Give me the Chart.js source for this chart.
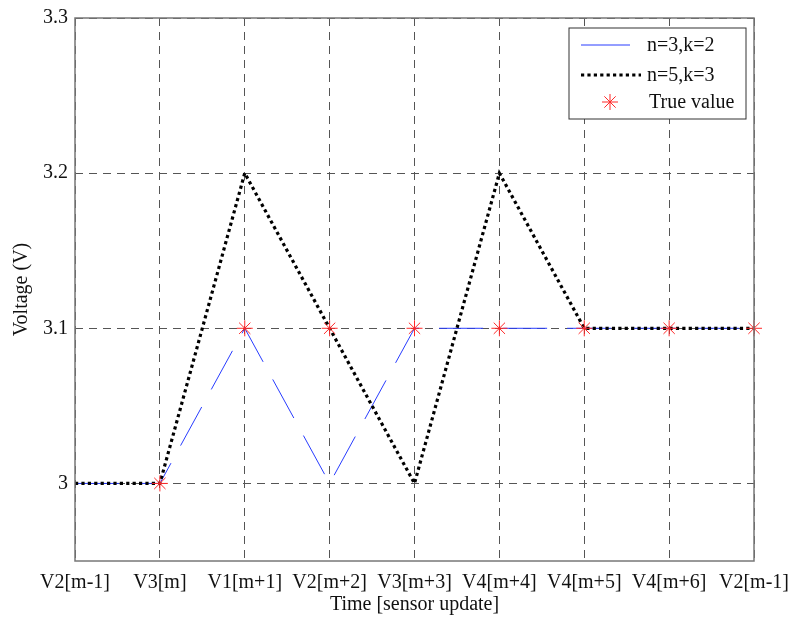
<!DOCTYPE html>
<html>
<head>
<meta charset="utf-8">
<script src="https://cdn.jsdelivr.net/npm/chart.js@4/dist/chart.umd.min.js"></script>
<style>
  html, body { margin: 0; padding: 0; background: #fff; }
  #wrap { width: 792px; height: 617px; }
</style>
</head>
<body>
<div id="wrap"><canvas id="voltChart" width="792" height="617"></canvas></div>
<script>
// 資料
const timeLabels = ['V2[m-1]', 'V3[m]', 'V1[m+1]', 'V2[m+2]', 'V3[m+3]', 'V4[m+4]', 'V4[m+5]', 'V4[m+6]', 'V2[m-1]'];
const seriesN3K2 = [3.0, 3.0, 3.1, 3.0, 3.1, 3.1, 3.1, 3.1, 3.1];
const seriesN5K3 = [3.0, 3.0, 3.2, 3.1, 3.0, 3.2, 3.1, 3.1, 3.1];
const trueValue = [null, 3.0, 3.1, 3.1, 3.1, 3.1, 3.1, 3.1, 3.1];
const yTicks = [3, 3.1, 3.2, 3.3];

const serif = "'Liberation Serif', 'Times New Roman', serif";
Chart.defaults.font.family = serif;
Chart.defaults.color = '#111';

// 外框 + 圖例 (畫在圖內右上角)
const boxAndLegend = {
  id: 'boxAndLegend',
  afterDatasetsDraw(chart) {
    const { ctx, chartArea: a } = chart;
    ctx.save();
    ctx.strokeStyle = '#777';
    ctx.lineWidth = 1.5;
    ctx.setLineDash([]);
    ctx.strokeRect(a.left, a.top, a.right - a.left, a.bottom - a.top);

    const w = 177, h = 91;
    const x = a.right - 8 - w, y = a.top + 10;
    ctx.fillStyle = '#fff';
    ctx.fillRect(x, y, w, h);
    ctx.strokeStyle = '#333';
    ctx.lineWidth = 1;
    ctx.strokeRect(x, y, w, h);

    ctx.font = '20px ' + serif;
    ctx.fillStyle = '#111';
    ctx.textBaseline = 'middle';
    const rows = [y + 17, y + 47, y + 74];
    chart.data.datasets.forEach((ds, i) => {
      const ry = rows[i];
      if (ds.showLine === false) {
        ctx.strokeStyle = ds.borderColor;
        ctx.lineWidth = 1;
        Chart.helpers.drawPoint(ctx, { pointStyle: 'star', radius: 8, borderWidth: 1 }, x + 41, ry);
      } else {
        ctx.strokeStyle = ds.borderColor;
        ctx.lineWidth = ds.borderWidth;
        ctx.setLineDash(i === 0 ? [] : ds.borderDash);
        ctx.beginPath();
        ctx.moveTo(x + 12, ry);
        ctx.lineTo(x + (i === 0 ? 61 : 72), ry);
        ctx.stroke();
        ctx.setLineDash([]);
      }
      ctx.fillText(ds.label, x + (ds.showLine === false ? 80 : 78), ry + 1);
    });
    ctx.restore();
  }
};

const ctx = document.getElementById('voltChart').getContext('2d');
new Chart(ctx, {
  type: 'line',
  data: {
    labels: timeLabels,
    datasets: [
      {
        label: 'n=3,k=2',
        data: seriesN3K2,
        borderColor: 'rgb(40,60,255)',
        borderWidth: 1,
        borderDash: [44, 20],
        pointRadius: 0,
        tension: 0,
        order: 3
      },
      {
        label: 'n=5,k=3',
        data: seriesN5K3,
        borderColor: '#000',
        borderWidth: 3.2,
        borderDash: [3.2, 3.2],
        pointRadius: 0,
        tension: 0,
        order: 2
      },
      {
        label: 'True value',
        data: trueValue,
        showLine: false,
        borderColor: 'rgb(255,40,40)',
        backgroundColor: 'rgb(255,40,40)',
        pointStyle: 'star',
        pointRadius: 8,
        pointBorderWidth: 1,
        order: 1
      }
    ]
  },
  options: {
    responsive: false,
    animation: false,
    layout: { padding: { top: 18, right: 38, left: 0, bottom: 0 } },
    plugins: {
      legend: { display: false },
      tooltip: { enabled: false }
    },
    scales: {
      x: {
        type: 'category',
        offset: false,
        grid: { color: '#555', lineWidth: 1, drawTicks: false },
        border: { display: false, dash: [8, 6] },
        ticks: { padding: 10, maxRotation: 0, autoSkip: false, font: { size: 20 }, color: '#111' },
        title: { display: true, text: 'Time [sensor update]', font: { size: 20 }, color: '#111', padding: { top: 0, bottom: 0 } },
        afterFit: s => { s.height = 56; s.paddingLeft = 0; s.paddingRight = 0; }
      },
      y: {
        min: 2.95,
        max: 3.3,
        grid: { color: '#555', lineWidth: 1, drawTicks: false },
        border: { display: false, dash: [8, 6] },
        ticks: { padding: 7, font: { size: 20 }, color: '#111', callback: v => String(+v.toFixed(2)) },
        afterBuildTicks: s => { s.ticks = yTicks.map(v => ({ value: v })); },
        title: { display: true, text: 'Voltage (V)', font: { size: 20 }, color: '#111', padding: { top: 10, bottom: 0 } },
        afterFit: s => { s.width = 75; s.paddingTop = 0; s.paddingBottom = 0; }
      }
    }
  },
  plugins: [boxAndLegend]
});
</script>
</body>
</html>
